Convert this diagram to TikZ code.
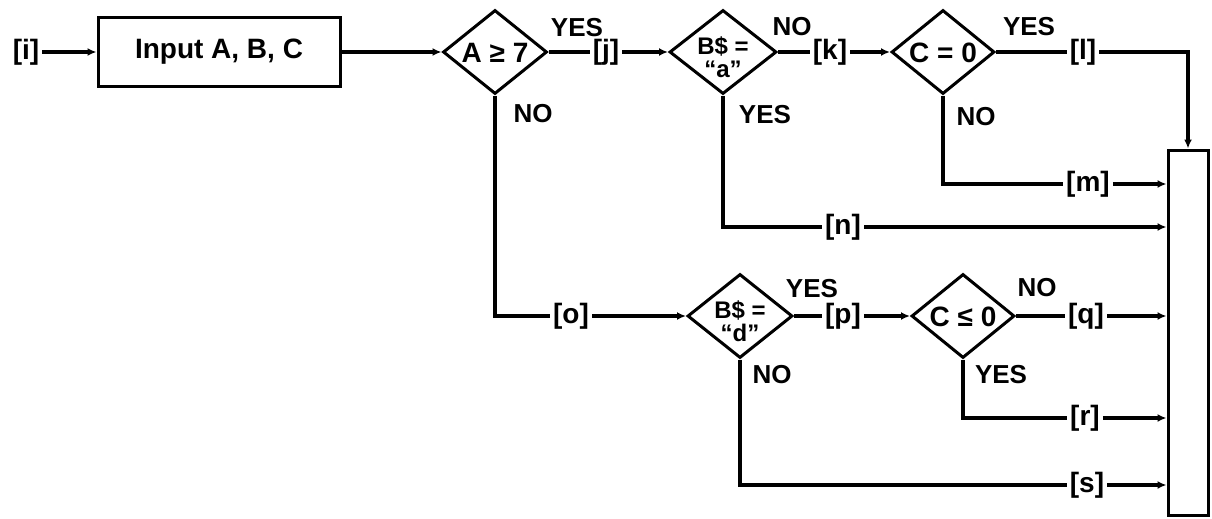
\documentclass[tikz,border=0pt]{standalone}
\usepackage{fontspec}
\setmainfont{Liberation Sans}
\usetikzlibrary{arrows.meta,shapes.geometric}
\tikzset{
  ln/.style={line width=3.2pt},
  arr/.style={ln,-{Latex[length=9pt,width=8pt]}},
  dia/.style={draw,diamond,line width=3pt,inner sep=0pt,minimum width=#1,minimum height=84pt},
  txt/.style={font=\bfseries\fontsize{28}{28}\selectfont,inner sep=0pt},
  two/.style={font=\bfseries\fontsize{24}{23}\selectfont,inner sep=0pt,align=center},
  lab/.style={font=\bfseries\fontsize{28}{28}\selectfont,inner sep=3pt},
  yn/.style={font=\bfseries\fontsize{26}{26}\selectfont,inner sep=0pt},
  boxst/.style={draw,line width=3pt,inner sep=0pt},
}
\begin{document}
\begin{tikzpicture}[x=1pt,y=-1pt]
\useasboundingbox (0,0) rectangle (1212,519);
% first row
\node[lab] (i) at (26,52) {[i]};
\node[boxst,minimum width=242pt,minimum height=69pt,txt] (in) at (219,52) {Input A, B, C};
\node[dia=104pt] (A) at (495,52) {};
\node[txt] (At) at (495,53) {A ≥ 7};
\node[lab] (j) at (606,52) {[j]};
\node[dia=107pt] (B) at (723,52) {};
\node[two] (Bt) at (723,57) {B\$ =\\“a”};
\node[lab] (k) at (830,52) {[k]};
\node[dia=103pt] (C) at (943,52) {};
\node[txt] (Ct) at (943,53) {C = 0};
\node[lab] (l) at (1083,52) {[l]};
% right box
\node[boxst,minimum width=40pt,minimum height=365pt] (R) at (1188,332.5) {};
\coordinate (lc) at (1188,52);
% middle rows
\node[lab] (m) at (1088,184) {[m]};
\coordinate (mc) at (943,184);
\node[lab] (n) at (843,227) {[n]};
\coordinate (nc) at (723,227);
\node[lab] (o) at (571,316) {[o]};
\coordinate (oc) at (495,316);
% second row
\node[dia=105pt] (D) at (740,316) {};
\node[two] (Dt) at (740,321) {B\$ =\\“d”};
\node[lab] (p) at (843,316) {[p]};
\node[dia=103pt] (E) at (963,316) {};
\node[txt] (Et) at (963,317) {C ≤ 0};
\node[lab] (q) at (1086,316) {[q]};
\node[lab] (r) at (1085,418) {[r]};
\coordinate (rc) at (963,418);
\node[lab] (s) at (1087,485) {[s]};
\coordinate (sc) at (740,485);
% YES / NO labels
\node[yn] (ay) at (577,28) {YES};
\node[yn] (an) at (533,114) {NO};
\node[yn] (bn) at (792,27) {NO};
\node[yn] (by) at (765,115) {YES};
\node[yn] (cy) at (1029,27) {YES};
\node[yn] (cn) at (976,117) {NO};
\node[yn] (dy) at (812,289) {YES};
\node[yn] (dn) at (772,375) {NO};
\node[yn] (en) at (1037,288) {NO};
\node[yn] (ey) at (1001,375) {YES};
% connectors
\draw[arr] (i) -- (in);
\draw[arr] (in) -- (A);
\draw[ln] (A.east) -- (j);
\draw[arr] (j) -- (B);
\draw[ln] (B.east) -- (k);
\draw[arr] (k) -- (C);
\draw[ln] (C.east) -- (l);
\draw[arr] (l) -- (lc) -- (R.north);
\draw[ln] (C.south) -- (mc) -- (m);
\draw[arr] (m) -- (m -| R.west);
\draw[ln] (B.south) -- (nc) -- (n);
\draw[arr] (n) -- (n -| R.west);
\draw[ln] (A.south) -- (oc) -- (o);
\draw[arr] (o) -- (o -| D.west);
\draw[ln] (D.east) -- (p);
\draw[arr] (p) -- (p -| E.west);
\draw[ln] (E.east) -- (q);
\draw[arr] (q) -- (q -| R.west);
\draw[ln] (E.south) -- (rc) -- (r);
\draw[arr] (r) -- (r -| R.west);
\draw[ln] (D.south) -- (sc) -- (s);
\draw[arr] (s) -- (s -| R.west);
\end{tikzpicture}
\end{document}
